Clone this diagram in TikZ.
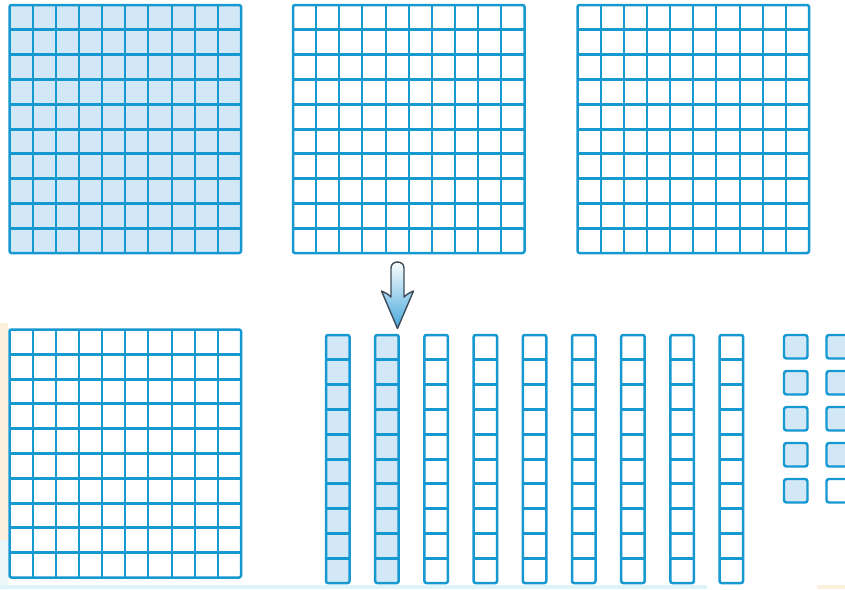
\documentclass[tikz,border=0pt]{standalone}
\definecolor{gline}{RGB}{22,152,208}
\definecolor{gfill}{RGB}{211,232,246}
\definecolor{bgcyan}{RGB}{222,244,249}
\definecolor{bgbeige}{RGB}{250,240,220}
\definecolor{arrowline}{RGB}{60,75,88}
\definecolor{arrowblue}{RGB}{70,168,220}
\tikzset{
  gridborder/.style={draw=gline, line width=2.5pt, rounded corners=2pt},
  hline/.style={draw=gline, line width=3pt},
  vline/.style={draw=gline, line width=2pt},
  unitsq/.style={draw=gline, line width=2.4pt, rounded corners=2.5pt},
}
\newcommand\hundredsq[3]{%
  \fill[#3] (#1,#2) rectangle ++(231.5,248);
  \foreach \i in {1,...,9} { \draw[vline] ({#1+\i*23.15},#2) -- ++(0,248); }
  \foreach \j in {1,...,9} { \draw[hline] (#1,{#2+\j*24.8}) -- ++(231.5,0); }
  \draw[gridborder] (#1,#2) rectangle ++(231.5,248);
}
\newcommand\tenbar[3]{%
  \fill[#3] (#1,#2) rectangle ++(23.5,248);
  \foreach \j in {1,...,9} { \draw[hline] (#1,{#2+\j*24.8}) -- ++(23.5,0); }
  \draw[gridborder] (#1,#2) rectangle ++(23.5,248);
}
\begin{document}
\begin{tikzpicture}[x=1pt,y=-1pt]
\useasboundingbox (0,0) rectangle (845,589);
\fill[white] (0,0) rectangle (845,589);
% faint background
\fill[bgcyan] (0,585) rectangle (707,589);
\fill[bgbeige] (817,585) rectangle (845,589);
\fill[bgbeige] (0,323) rectangle (8,540);
\fill[bgcyan!60] (0,540) rectangle (8,585);
% hundreds
\hundredsq{9.5}{5}{gfill}
\hundredsq{293}{5}{white}
\hundredsq{577.5}{5}{white}
\hundredsq{9.5}{329.5}{white}
% tens
\foreach \k in {0,...,8} {
  \pgfmathsetmacro{\bx}{326+\k*49.2}
  \ifnum\k<2
    \tenbar{\bx}{335}{gfill}
  \else
    \tenbar{\bx}{335}{white}
  \fi
}
% ones
\foreach \r in {0,...,4} {
  \fill[gfill,unitsq] (784,{335+\r*36}) rectangle ++(23.5,23.5);
}
\foreach \r in {0,...,3} {
  \fill[gfill,unitsq] (826.5,{335+\r*36}) rectangle ++(23.5,23.5);
}
\draw[unitsq,fill=white] (826.5,479) rectangle ++(23.5,23.5);
% arrow
\shade[top color=white, bottom color=arrowblue, draw=arrowline, line width=1.4pt, line join=round]
  (391,297) -- (391,268) .. controls (391,260) and (404,260) .. (404,268)
  -- (404,297) .. controls (407,294) and (410,292.5) .. (413.5,291)
  -- (397.5,328.5) -- (381.5,291) .. controls (385,292.5) and (388,294) .. (391,297) -- cycle;
\end{tikzpicture}
\end{document}
